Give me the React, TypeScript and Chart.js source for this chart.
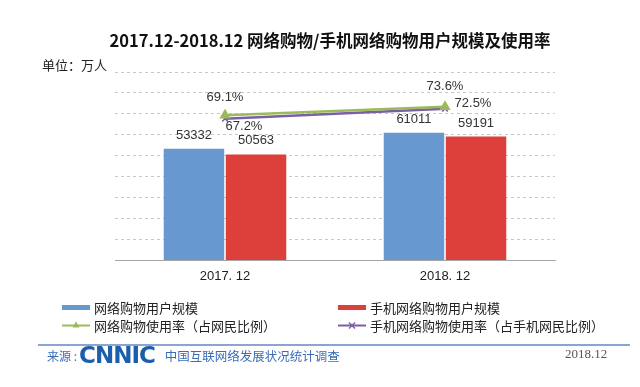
import React, { useEffect, useRef } from "react";
import { Chart, registerables } from "chart.js";

Chart.register(...registerables);

// ---- data ----
const categories = ["2017. 12", "2018. 12"];
const onlineShoppingUsers = [53332, 61011];
const mobileShoppingUsers = [50563, 59191];
const onlineShoppingRate = [69.1, 73.6];
const mobileShoppingRate = [67.2, 72.5];
const userAxisMax = 90000;
const userAxisStep = 10000;
const rateAxisMin = -8;
const rateAxisMax = 92;
const seriesNames = [
  "网络购物用户规模",
  "手机网络购物用户规模",
  "网络购物使用率（占网民比例）",
  "手机网络购物使用率（占手机网民比例）",
];
const titleText = "2017.12-2018.12 网络购物/手机网络购物用户规模及使用率";
const unitText = "单位：万人";
const sourceLabel = "来源 :";
const sourceLogo = "CNNIC";
const sourceName = "中国互联网络发展状况统计调查";
const sourceDate = "2018.12";

// ---- styles ----
const BLUE = "#6898d0";
const RED = "#dd403b";
const GREEN = "#9bbb59";
const PURPLE = "#7b5ea8";
const CJK = "'Noto Sans CJK SC', 'Noto Sans', sans-serif";
const LATIN = "'Liberation Sans', Arial, sans-serif";

// label offsets per dataset / point (dx, dy) in px
const labelOffsets: number[][][] = [
  [[0, -13], [0, -13]],
  [[0, -14], [0, -13]],
  [[0, -18], [0, -20]],
  [[19, 8], [28, -5]],
];

const valueLabels = {
  id: "valueLabels",
  afterDatasetsDraw(chart: any) {
    const ctx = chart.ctx;
    ctx.save();
    ctx.font = `13px ${LATIN}`;
    ctx.fillStyle = "#333333";
    ctx.textAlign = "center";
    ctx.textBaseline = "middle";
    chart.data.datasets.forEach((ds: any, i: number) => {
      const meta = chart.getDatasetMeta(i);
      meta.data.forEach((el: any, j: number) => {
        const v = ds.data[j];
        const text = ds.type === "line" ? `${v.toFixed(1)}%` : String(v);
        const [dx, dy] = labelOffsets[i][j];
        ctx.fillText(text, el.x + dx, el.y + dy);
      });
    });
    ctx.restore();
  },
};

function Swatch({ kind }: { kind: number }) {
  if (kind === 0 || kind === 1) {
    return (
      <svg width={30} height={12} style={{ display: "block" }}>
        <rect x={1} y={4} width={28} height={5} fill={kind === 0 ? BLUE : RED} />
      </svg>
    );
  }
  const color = kind === 2 ? GREEN : PURPLE;
  return (
    <svg width={30} height={12} style={{ display: "block" }}>
      <line x1={1} y1={6.5} x2={29} y2={6.5} stroke={color} strokeWidth={2} />
      {kind === 2 ? (
        <polygon points="15,2.5 18.5,8.5 11.5,8.5" fill={color} />
      ) : (
        <g stroke={color} strokeWidth={1.5}>
          <line x1={12} y1={3.5} x2={18} y2={9.5} />
          <line x1={18} y1={3.5} x2={12} y2={9.5} />
        </g>
      )}
    </svg>
  );
}

export default function App() {
  const ref = useRef<HTMLCanvasElement | null>(null);

  useEffect(() => {
    if (!ref.current) return;
    const chart = new Chart(ref.current, {
      type: "bar",
      data: {
        labels: categories,
        datasets: [
          {
            type: "bar",
            label: seriesNames[0],
            data: onlineShoppingUsers,
            backgroundColor: BLUE,
            yAxisID: "y",
            order: 2,
            categoryPercentage: 0.564,
            barPercentage: 0.975,
          },
          {
            type: "bar",
            label: seriesNames[1],
            data: mobileShoppingUsers,
            backgroundColor: RED,
            yAxisID: "y",
            order: 2,
            categoryPercentage: 0.564,
            barPercentage: 0.975,
          },
          {
            type: "line",
            label: seriesNames[2],
            data: onlineShoppingRate,
            borderColor: GREEN,
            backgroundColor: GREEN,
            borderWidth: 2.5,
            pointStyle: "triangle",
            pointRadius: 4,
            yAxisID: "y1",
            order: 0,
          },
          {
            type: "line",
            label: seriesNames[3],
            data: mobileShoppingRate,
            borderColor: PURPLE,
            backgroundColor: PURPLE,
            borderWidth: 2.5,
            pointStyle: "crossRot",
            pointRadius: 4,
            pointBorderWidth: 1.5,
            yAxisID: "y1",
            order: 1,
          },
        ] as any,
      },
      options: {
        responsive: false,
        animation: false,
        layout: { padding: { left: 115, right: 85, top: 72, bottom: 95 } },
        plugins: {
          legend: { display: false },
          tooltip: { enabled: false },
          title: { display: false },
        },
        scales: {
          x: {
            grid: { drawOnChartArea: false, drawTicks: false },
            border: { display: true, color: "#a6a6a6", width: 1 },
            ticks: { padding: 8, color: "#222222", font: { size: 13, family: LATIN } },
          },
          y: {
            min: 0,
            max: userAxisMax,
            ticks: { stepSize: userAxisStep, display: false },
            grid: { color: "#c8c8c8", drawTicks: false, lineWidth: 1 },
            border: { display: false, dash: [3, 3] },
          },
          y1: {
            display: false,
            min: rateAxisMin,
            max: rateAxisMax,
            position: "right",
          },
        },
      } as any,
      plugins: [valueLabels],
    });
    return () => chart.destroy();
  }, []);

  const legendRow = (i: number, x: number, y: number) => (
    <div
      key={i}
      style={{
        position: "absolute",
        left: x,
        top: y - 9,
        height: 18,
        display: "flex",
        alignItems: "center",
        whiteSpace: "nowrap",
        fontFamily: CJK,
        fontSize: 13,
        color: "#222",
      }}
    >
      <Swatch kind={i} />
      <span style={{ marginLeft: 3 }}>{seriesNames[i]}</span>
    </div>
  );

  return (
    <div
      style={{
        position: "fixed",
        left: 0,
        top: 0,
        width: 640,
        height: 387,
        background: "#ffffff",
        overflow: "hidden",
      }}
    >
      <canvas ref={ref} width={640} height={387} style={{ position: "absolute", left: 0, top: 0 }} />
      <div
        style={{
          position: "absolute",
          left: 0,
          width: 660,
          top: 29,
          textAlign: "center",
          fontFamily: CJK,
          fontWeight: 700,
          fontSize: 16.5,
          lineHeight: "22px",
          color: "#111",
          whiteSpace: "nowrap",
        }}
      >
        {titleText}
      </div>
      <div
        style={{
          position: "absolute",
          left: 42,
          top: 56,
          fontFamily: CJK,
          fontSize: 13,
          lineHeight: "18px",
          color: "#222",
        }}
      >
        {unitText}
      </div>
      {legendRow(0, 61, 307)}
      {legendRow(1, 337, 307)}
      {legendRow(2, 61, 325)}
      {legendRow(3, 337, 325)}
      <div
        style={{
          position: "absolute",
          left: 38,
          top: 344,
          width: 592,
          height: 2,
          background: "#8aa6cf",
        }}
      />
      <div
        style={{
          position: "absolute",
          left: 47,
          top: 345,
          height: 20,
          display: "flex",
          alignItems: "center",
          whiteSpace: "nowrap",
        }}
      >
        <span style={{ fontFamily: CJK, fontSize: 12, color: "#3a6db5" }}>{sourceLabel}</span>
        <span
          style={{
            fontFamily: "'DejaVu Sans', sans-serif",
            fontWeight: 700,
            fontSize: 23,
            color: "#1b5eab",
            marginLeft: 2,
            letterSpacing: -1,
            lineHeight: "20px",
          }}
        >
          {sourceLogo}
        </span>
        <span style={{ fontFamily: CJK, fontSize: 12.5, color: "#3a6db5", marginLeft: 10 }}>{sourceName}</span>
      </div>
      <div
        style={{
          position: "absolute",
          left: 565,
          top: 345,
          lineHeight: "18px",
          fontFamily: "'Liberation Serif', 'DejaVu Serif', serif",
          fontSize: 13,
          color: "#555",
        }}
      >
        {sourceDate}
      </div>
    </div>
  );
}
